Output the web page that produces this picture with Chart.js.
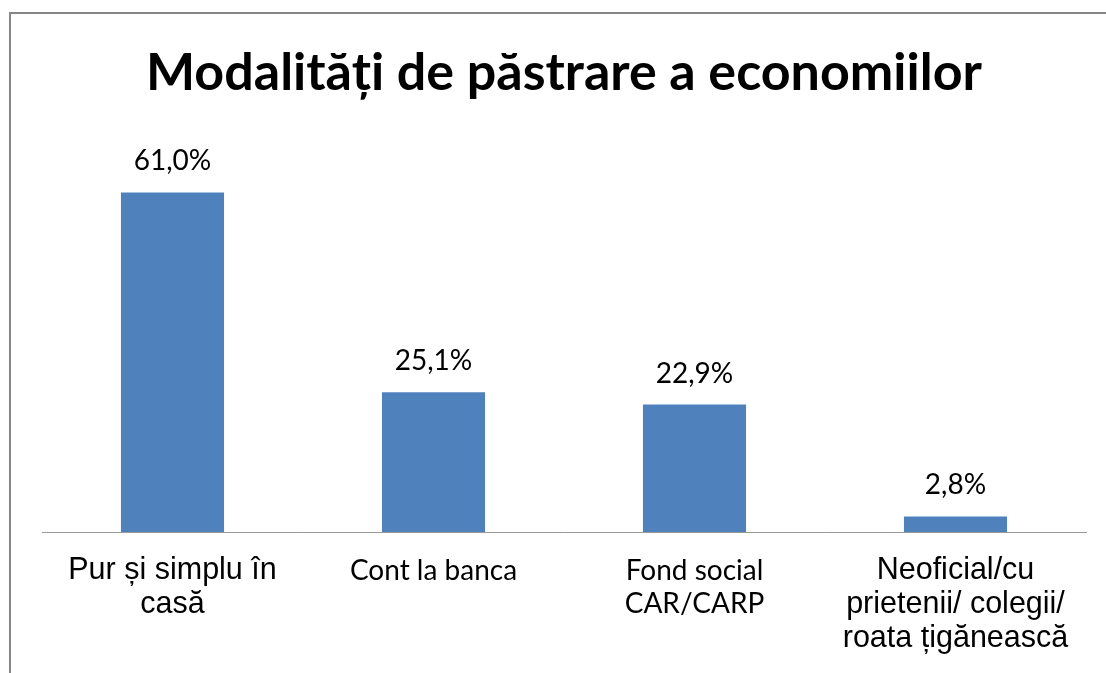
<!DOCTYPE html>
<html>
<head>
<meta charset="utf-8">
<script src="https://cdn.jsdelivr.net/npm/chart.js@4"></script>
<style>
  html, body { margin: 0; padding: 0; background: #fff; }
  #wrap { position: relative; width: 1106px; height: 673px; overflow: hidden; }
  #frame { position: absolute; left: 9px; top: 12px; width: 1200px; height: 800px;
           border-left: 2px solid #868686; border-top: 2px solid #868686; box-sizing: border-box; }
  canvas { position: absolute; left: 0; top: 0; }
</style>
</head>
<body>
<div id="wrap">
  <div id="frame"></div>
  <canvas id="c" width="1106" height="673"></canvas>
</div>
<script>
const title = 'Modalități de păstrare a economiilor';
const categories = [
  ['Pur și simplu în', 'casă'],
  ['Cont la banca'],
  ['Fond social', 'CAR/CARP'],
  ['Neoficial/cu', 'prietenii/ colegii/', 'roata țigănească']
];
const values = [61.0, 25.1, 22.9, 2.8];
const valueLabels = ['61,0%', '25,1%', '22,9%', '2,8%'];
const labelFontFamilies = ['"Liberation Sans", Arial, sans-serif', 'Lato, sans-serif', 'Lato, sans-serif', '"Liberation Sans", Arial, sans-serif'];

const valueLabelPlugin = {
  id: 'valueLabels',
  afterDatasetsDraw(chart) {
    const ctx = chart.ctx;
    const meta = chart.getDatasetMeta(0);
    ctx.save();
    ctx.font = '28px Lato, sans-serif';
    ctx.fillStyle = '#000';
    ctx.textAlign = 'center';
    ctx.textBaseline = 'alphabetic';
    meta.data.forEach((bar, i) => {
      ctx.fillText(valueLabels[i], bar.x, bar.y - 22);
    });
    ctx.restore();
  }
};

new Chart(document.getElementById('c'), {
  type: 'bar',
  data: {
    labels: categories,
    datasets: [{
      data: values,
      backgroundColor: '#4f81bd',
      borderWidth: 0,
      categoryPercentage: 1.0,
      barPercentage: 0.395
    }]
  },
  options: {
    responsive: false,
    animation: false,
    layout: { padding: { left: 42, right: 20, top: 0, bottom: 0 } },
    plugins: {
      legend: { display: false },
      tooltip: { enabled: false },
      title: {
        display: true,
        text: title,
        color: '#000',
        font: { family: 'Lato, sans-serif', size: 52, weight: 'bold', lineHeight: 1.2 },
        padding: { top: 42, bottom: 38 }
      }
    },
    scales: {
      x: {
        grid: { display: false, drawTicks: false },
        border: { display: true, color: '#999', width: 1 },
        ticks: {
          color: '#000',
          padding: 22,
          autoSkip: false,
          maxRotation: 0,
          font: (c) => {
            const i = c.index;
            const arial = labelFontFamilies[i].indexOf('Liberation') >= 0;
            return { family: labelFontFamilies[i], size: arial ? 30.5 : 28, lineHeight: arial ? '34px' : '33px' };
          }
        },
        afterFit: (s) => { s.height = 141; }
      },
      y: {
        display: false,
        min: 0,
        max: 70
      }
    }
  },
  plugins: [valueLabelPlugin]
});
</script>
</body>
</html>
